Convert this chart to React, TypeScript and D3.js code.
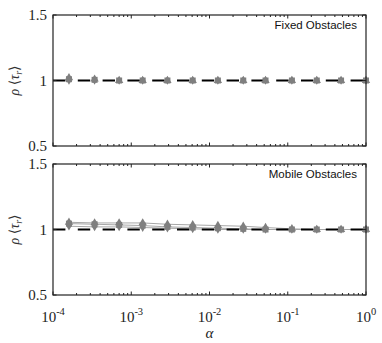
import * as d3 from "d3";

// alpha values (x)
const alphas = [1.6e-4, 3.4e-4, 7e-4, 1.4e-3, 2.9e-3, 6.1e-3, 1.28e-2, 2.7e-2, 5.2e-2, 0.113, 0.235, 0.48, 1];

// fixed obstacles: all sit on 1
const fixedTri = [1.02, 1.01, 1.0, 1.0, 1.0, 1.0, 1.0, 1.0, 1.0, 1.0, 1.0, 1.0, 1.0];
const fixedSq = [1.01, 1.005, 1.0, 1.0, 1.0, 1.0, 1.0, 1.0, 1.0, 1.0, 1.0, 1.0, 1.0];
const fixedCirc = [1.0, 1.0, 1.0, 1.0, 1.0, 1.0, 1.0, 1.0, 1.0, 1.0, 1.0, 1.0, 1.0];

// mobile obstacles
const mobileTri = [1.055, 1.05, 1.05, 1.05, 1.04, 1.035, 1.03, 1.025, 1.015, 1.005, 1.0, 1.0, 1.0];
const mobileSq = [1.045, 1.04, 1.035, 1.03, 1.02, 1.015, 1.01, 1.005, 1.0, 1.0, 1.0, 1.0, 1.0];
const mobileCirc = [1.025, 1.02, 1.02, 1.015, 1.01, 1.005, 1.0, 1.0, 1.0, 1.0, 1.0, 1.0, 1.0];

const refLine = [1, 1];
const yTicks = [0.5, 1, 1.5];
const xTicks = [1e-4, 1e-3, 1e-2, 1e-1, 1];
const xTickExp = ["-4", "-3", "-2", "-1", "0"];

const left = 53;
const right = 366;
const panels = [
  { top: 15, bottom: 146, label: "Fixed Obstacles", series: [fixedCirc, fixedSq, fixedTri], lines: false },
  { top: 164, bottom: 295, label: "Mobile Obstacles", series: [mobileCirc, mobileSq, mobileTri], lines: true },
];

const serif = "Liberation Serif, DejaVu Serif, Times New Roman, serif";
const sans = "Liberation Sans, Arial, sans-serif";
const markerColor = "#7f7f7f";
const lineColor = "#a6a6a6";

const x = d3.scaleLog().domain([1e-4, 1]).range([left, right]);

const minorTicks: number[] = [];
for (let e = -4; e < 0; e++) {
  for (let m = 2; m <= 9; m++) minorTicks.push(m * Math.pow(10, e));
}

const Marker = ({ shape, cx, cy }: { shape: number; cx: number; cy: number }) => {
  if (shape === 1) return <rect x={cx - 3} y={cy - 3} width={6} height={6} fill={markerColor} />;
  if (shape === 2) {
    const tri = d3.symbol().type(d3.symbolTriangle).size(30)();
    return <path d={tri || ""} transform={`translate(${cx},${cy})`} fill={markerColor} />;
  }
  const dia = d3.symbol().type(d3.symbolDiamond).size(22)();
  return <path d={dia || ""} transform={`translate(${cx},${cy})`} fill={markerColor} />;
};

const Panel = ({ p, showX }: { p: (typeof panels)[0]; showX: boolean }) => {
  const y = d3.scaleLinear().domain([0.5, 1.5]).range([p.bottom, p.top]);
  const line = d3
    .line<number>()
    .x((_, i) => x(alphas[i]))
    .y((d) => y(d));
  const mid = (p.top + p.bottom) / 2;
  return (
    <g>
      {p.lines &&
        p.series.map((s, i) => (
          <path key={i} d={line(s) || ""} fill="none" stroke={lineColor} strokeWidth={1} />
        ))}
      <line
        x1={x(1e-4)}
        x2={x(1)}
        y1={y(refLine[0])}
        y2={y(refLine[1])}
        stroke="#000"
        strokeWidth={1.8}
        strokeDasharray="12.4 12.4"
      />
      {p.series.map((s, si) =>
        s.map((v, i) => <Marker key={`${si}-${i}`} shape={si} cx={x(alphas[i])} cy={y(v)} />)
      )}
      <rect x={left} y={p.top} width={right - left} height={p.bottom - p.top} fill="none" stroke="#222" strokeWidth={1.2} />
      {xTicks.map((t, i) => (
        <g key={i}>
          <line x1={x(t)} x2={x(t)} y1={p.bottom} y2={p.bottom - 3.5} stroke="#222" />
          <line x1={x(t)} x2={x(t)} y1={p.top} y2={p.top + 3.5} stroke="#222" />
        </g>
      ))}
      {minorTicks.map((t, i) => (
        <g key={i}>
          <line x1={x(t)} x2={x(t)} y1={p.bottom} y2={p.bottom - 2} stroke="#222" />
          <line x1={x(t)} x2={x(t)} y1={p.top} y2={p.top + 2} stroke="#222" />
        </g>
      ))}
      {yTicks.map((t) => (
        <g key={t}>
          <line x1={left} x2={left + 3.5} y1={y(t)} y2={y(t)} stroke="#222" />
          <line x1={right} x2={right - 3.5} y1={y(t)} y2={y(t)} stroke="#222" />
          <text x={47} y={y(t) + 5} textAnchor="end" fontFamily={serif} fontSize={15} fill="#222">
            {t}
          </text>
        </g>
      ))}
      <text x={357} y={p.top + 14} textAnchor="end" fontFamily={sans} fontSize={11.5} fill="#111">
        {p.label}
      </text>
      <text
        transform={`translate(19,${mid}) rotate(-90)`}
        textAnchor="middle"
        fontFamily={serif}
        fontSize={14}
        fill="#333"
      >
        <tspan fontStyle="italic">ρ</tspan>
        <tspan> ⟨</tspan>
        <tspan fontStyle="italic">τ</tspan>
        <tspan fontStyle="italic" fontSize={10} dy={3}>r</tspan>
        <tspan dy={-3}>⟩</tspan>
      </text>
      {showX &&
        xTicks.map((t, i) => (
          <text key={i} x={x(t)} y={322} textAnchor="middle" fontFamily={serif} fontSize={15} fill="#222">
            10
            <tspan fontSize={10.5} dy={-7}>{xTickExp[i]}</tspan>
          </text>
        ))}
    </g>
  );
};

export default function App() {
  return (
    <svg width={382} height={343} style={{ position: "absolute", left: 0, top: 0, background: "#fff" }}>
      {panels.map((p, i) => (
        <Panel key={i} p={p} showX={i === 1} />
      ))}
      <text x={x(1e-2)} y={338} textAnchor="middle" fontFamily={serif} fontStyle="italic" fontSize={15} fill="#222">
        α
      </text>
    </svg>
  );
}
